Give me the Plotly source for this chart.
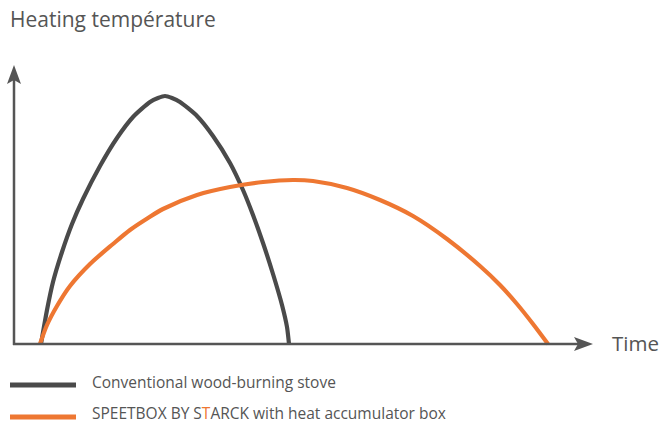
import plotly.graph_objects as go

W, H = 659, 425
# Axis origin in window pixels (y-axis at x=14, x-axis at y=344)
OX, OY = 14, 344

# Data (time units, temperature units; arbitrary scale)
stove_time = [27, 33, 39, 48, 58, 69, 86, 103, 119, 136, 144, 151, 158, 166, 183, 199, 216, 229, 239, 249, 259, 268, 273, 275]
stove_temp = [0, 34, 62, 92, 120, 145, 178, 206, 227, 242, 246, 248, 246, 242, 228, 208, 181, 154, 129, 101, 70, 39, 17, 0]

speetbox_time = [26, 33, 43, 56, 76, 99, 116, 134, 149, 183, 216, 249, 279, 299, 333, 366, 399, 433, 466, 486, 503, 519, 534]
speetbox_temp = [0, 19, 38, 58, 80, 100, 114, 126, 135, 149, 157, 162, 164, 163, 156, 144, 128, 105, 78, 59, 40, 20, 0]

GRAY = "#4a4a4a"
AXIS = "#555555"
ORANGE = "#ee7732"
TEXT = "#555555"
FONT = "Open Sans"

fig = go.Figure()
fig.add_trace(go.Scatter(x=stove_time, y=stove_temp, mode="lines",
                         line=dict(color=GRAY, width=4.2, shape="spline", smoothing=0.6),
                         hoverinfo="skip", showlegend=False))
fig.add_trace(go.Scatter(x=speetbox_time, y=speetbox_temp, mode="lines",
                         line=dict(color=ORANGE, width=4.2, shape="spline", smoothing=0.8),
                         hoverinfo="skip", showlegend=False))


def px(x):
    return x / W


def py(y):
    return 1 - y / H


shapes = []
# y axis line and arrow head
shapes.append(dict(type="line", xref="paper", yref="paper", x0=px(OX), x1=px(OX), y0=py(OY + 1), y1=py(76),
                   line=dict(color=AXIS, width=2.5)))
shapes.append(dict(type="path", xref="paper", yref="paper",
                   path=f"M {px(14)} {py(65)} L {px(21)} {py(84)} L {px(14)} {py(80)} L {px(7)} {py(84)} Z",
                   fillcolor=AXIS, line=dict(width=0)))
# x axis line and arrow head
shapes.append(dict(type="line", xref="paper", yref="paper", x0=px(OX - 1), x1=px(582), y0=py(OY), y1=py(OY),
                   line=dict(color=AXIS, width=2.5)))
shapes.append(dict(type="path", xref="paper", yref="paper",
                   path=f"M {px(593)} {py(344)} L {px(574)} {py(337)} L {px(578)} {py(344)} L {px(574)} {py(351)} Z",
                   fillcolor=AXIS, line=dict(width=0)))
# legend lines
shapes.append(dict(type="line", xref="paper", yref="paper", x0=px(10), x1=px(76), y0=py(385), y1=py(385),
                   line=dict(color=GRAY, width=5)))
shapes.append(dict(type="line", xref="paper", yref="paper", x0=px(10), x1=px(76), y0=py(417), y1=py(417),
                   line=dict(color=ORANGE, width=5)))

annotations = [
    dict(text="Heating température", x=px(8), y=py(19), xref="paper", yref="paper",
         xanchor="left", yanchor="middle", showarrow=False, font=dict(family=FONT, size=21, color=TEXT)),
    dict(text="Time", x=px(610), y=py(343), xref="paper", yref="paper",
         xanchor="left", yanchor="middle", showarrow=False, font=dict(family=FONT, size=20.5, color=TEXT)),
    dict(text="Conventional wood-burning stove", x=px(90), y=py(382), xref="paper", yref="paper",
         xanchor="left", yanchor="middle", showarrow=False, font=dict(family=FONT, size=15.5, color=TEXT)),
    dict(text=f"SPEETBOX BY S<span style='color:{ORANGE}'>T</span>ARCK with heat accumulator box",
         x=px(90), y=py(413), xref="paper", yref="paper",
         xanchor="left", yanchor="middle", showarrow=False, font=dict(family=FONT, size=15.5, color=TEXT)),
]

fig.update_layout(
    width=W, height=H,
    margin=dict(l=0, r=0, t=0, b=0),
    paper_bgcolor="white", plot_bgcolor="white",
    xaxis=dict(range=[-OX, W - OX], visible=False, fixedrange=True),
    yaxis=dict(range=[OY - H, OY], visible=False, fixedrange=True),
    shapes=shapes, annotations=annotations,
)

fig.write_html("out.html", config={"displayModeBar": False},
               post_script="document.body.style.margin='0';document.body.style.overflow='hidden';")
